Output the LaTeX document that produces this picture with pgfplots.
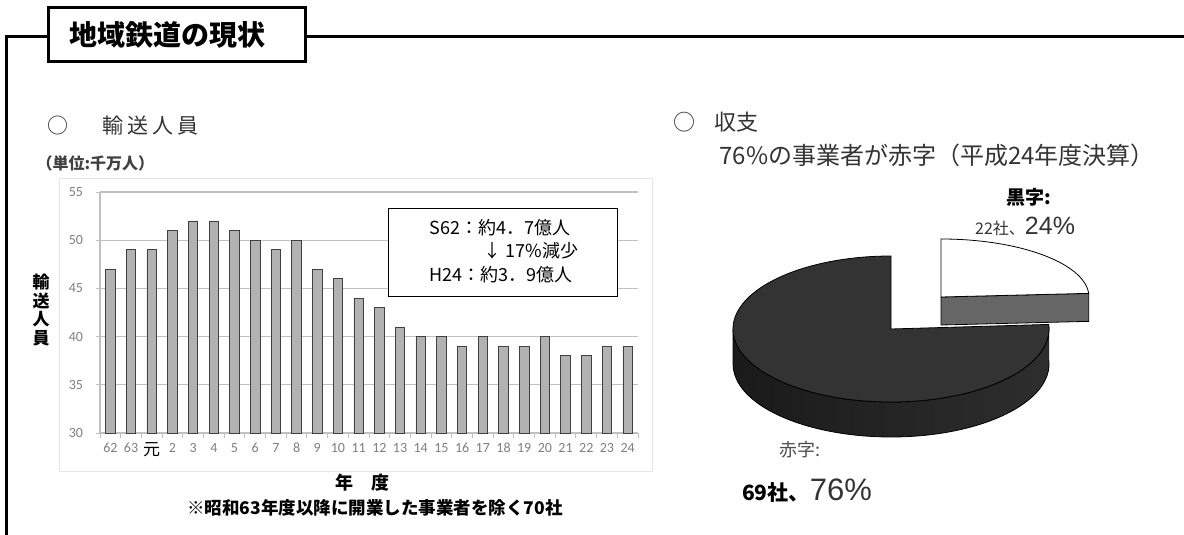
\documentclass[border=0pt]{standalone}
\usepackage{pgfplots}
\pgfplotsset{compat=1.18}
\usepackage{fontspec}
\setmainfont{Noto Sans CJK JP}
\newfontfamily\jp{Noto Sans CJK JP}
\newfontfamily\carl{Carlito}
\newfontfamily\lat{Liberation Sans}
\definecolor{barfill}{HTML}{B2B2B2}
\definecolor{gridc}{HTML}{C0C0C0}
\definecolor{tickc}{HTML}{7F7F7F}
\definecolor{darktop}{HTML}{333333}
\definecolor{darkL}{HTML}{1A1A1A}
\definecolor{darkR}{HTML}{2E2E2E}
\definecolor{lightside}{HTML}{666666}
\definecolor{txt}{HTML}{333333}
% pie data (percent)
\def\lossPct{76}
\def\profPct{24}
\pgfmathsetmacro\aend{90+3.6*\lossPct}
\pgfmathsetmacro\bstart{\aend-360}
\begin{document}
\begin{tikzpicture}
\begin{scope}[x=1pt,y=-1pt]
\path[use as bounding box] (0,0) rectangle (1184,535);
% frame
\draw[line width=3pt] (6.5,535) -- (6.5,37) -- (48,37);
\draw[line width=3pt] (305,37) -- (1184,37);
\draw[line width=3pt, fill=white] (48,7.5) rectangle (305,62);
\node[font=\bfseries\fontsize{28}{30}\selectfont] at (167,35) {地域鉄道の現状};
% left headings
\node[font=\fontsize{21}{21}\selectfont, text=txt] at (58,126) {○};
\node[font=\fontsize{21}{21}\selectfont, text=txt, anchor=west] at (99,126) {輸\hspace{4pt}送\hspace{4pt}人\hspace{4pt}員};
\node[font=\bfseries\fontsize{16}{16}\selectfont, text=black!75, anchor=west] at (33,163) {（単位:千万人）};
\node[font=\bfseries\fontsize{17}{18.5}\selectfont, align=center] at (41,310) {輸\\送\\人\\員};
% chart area frame
\draw[gray!20, line width=1pt, fill=white] (59,178) rectangle (652,471);
\end{scope}

\begin{axis}[
  at={(100pt,-433pt)}, anchor=south west,
  width=538pt, height=241pt, scale only axis,
  xmin=-0.5, xmax=25.5, ymin=30, ymax=55,
  xtick={-0.5,0.5,...,25.5},
  x tick label as interval,
  xticklabels={62,63,{\jp\color{black}\fontsize{17}{17}\selectfont 元},2,3,4,5,6,7,8,9,10,11,12,13,14,15,16,17,18,19,20,21,22,23,24},
  ytick={30,35,40,45,50,55},
  yticklabels={30,35,40,45,50,55},
  ymajorgrids,
  grid style={draw=gridc, line width=1.2pt},
  axis lines*=left,
  axis line style={-, draw=gridc, line width=1.2pt},
  tick align=outside,
  major tick length=4.5pt,
  tick style={draw=gridc, line width=1pt},
  tick label style={font=\carl\fontsize{14}{14}\selectfont, text=tickc},
  yticklabel style={xshift=-9pt},
  xticklabel style={yshift=-2pt},
  /pgf/number format/assume math mode=true,
]
\addplot[ybar, bar width=9.5pt, fill=barfill, draw=black!75, line width=0.8pt]
coordinates {(0,47) (1,49) (2,49) (3,51) (4,52) (5,52) (6,51) (7,50) (8,49) (9,50)
(10,47) (11,46) (12,44) (13,43) (14,41) (15,40) (16,40) (17,39) (18,40) (19,39)
(20,39) (21,40) (22,38) (23,38) (24,39) (25,39)};
\end{axis}

\begin{scope}[x=1pt,y=-1pt]
\draw[line width=0.8pt, fill=white] (388,208) rectangle (617,296);
\node[anchor=west, font=\fontsize{18}{18}\selectfont] at (426,228) {S62：約4．7億人};
\node[anchor=west, font=\fontsize{18}{18}\selectfont] at (480,251) {↓ 17\%減少};
\node[anchor=west, font=\fontsize{18}{18}\selectfont] at (426,275) {H24：約3．9億人};
% x label and note
\node[font=\bfseries\fontsize{18}{18}\selectfont] at (362,483) {年　度};
\node[font=\bfseries\fontsize{17.5}{17.5}\selectfont] at (375,508) {※昭和63年度以降に開業した事業者を除く70社};
% right headings
\node[font=\fontsize{22}{22}\selectfont, text=txt] at (684,122) {○};
\node[font=\fontsize{22}{22}\selectfont, text=txt, anchor=west] at (711,122) {収支};
\node[font=\fontsize{24}{24}\selectfont, text=txt, anchor=west] at (716,155) {76\%の事業者が赤字（平成24年度決算）};
\end{scope}

% pie
\begin{axis}[at={(0pt,-535pt)}, anchor=south west, x=1pt, y=1pt,
  xmin=0, xmax=1184, ymin=0, ymax=535, hide axis, clip=false]
% profit slice (exploded)
\filldraw[fill=lightside, draw=black, line width=0.8pt]
  (941,238) -- +(\bstart:148pt and 58pt) -- +([yshift=-28pt]\bstart:148pt and 58pt) -- +(0,-28pt) -- cycle;
\filldraw[fill=white, draw=black, line width=0.8pt]
  (941,238) -- +(\bstart:148pt and 58pt) arc[start angle=\bstart, end angle=90, x radius=148pt, y radius=58pt] -- cycle;
% loss slice
\shadedraw[left color=darkL, right color=darkR, draw=black, line width=0.8pt]
  (891,206) ++(180:158pt and 73pt) arc[start angle=180, end angle=\aend, x radius=158pt, y radius=73pt]
  -- ++(0,-35pt) arc[start angle=\aend, end angle=180, x radius=158pt, y radius=73pt] -- cycle;
\filldraw[fill=darktop, draw=black, line width=0.8pt]
  (891,206) -- +(90:158pt and 73pt) arc[start angle=90, end angle=\aend, x radius=158pt, y radius=73pt] -- cycle;
\end{axis}

\begin{scope}[x=1pt,y=-1pt]
\node[font=\bfseries\fontsize{19}{19}\selectfont] at (1029,197) {黒字:};
\node[anchor=base west, inner sep=0pt, text=txt] at (975,234) {{\fontsize{16}{16}\selectfont 22社、}{\lat\fontsize{25}{25}\selectfont 24\%}};
\node[font=\fontsize{18}{18}\selectfont, text=black!70, anchor=west, inner sep=0pt] at (779,450) {赤字:};
\node[anchor=base west, inner sep=0pt] at (742,500) {{\bfseries\fontsize{21}{21}\selectfont 69社、}{\lat\fontsize{31}{31}\selectfont\color{txt} 76\%}};
\end{scope}
\end{tikzpicture}
\end{document}
